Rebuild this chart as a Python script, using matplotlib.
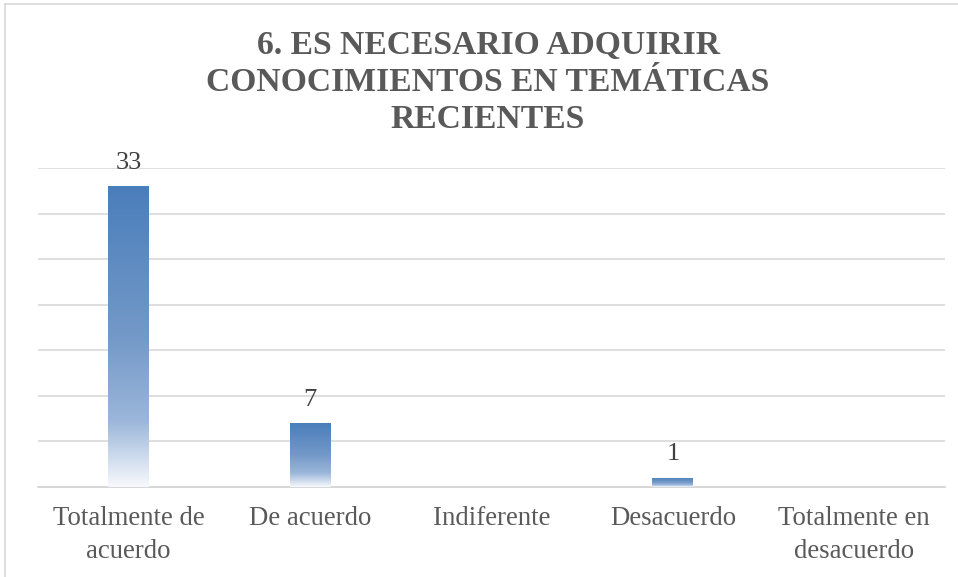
import numpy as np
import matplotlib.pyplot as plt
from matplotlib.colors import LinearSegmentedColormap
from matplotlib.lines import Line2D

categories = ["Totalmente de\nacuerdo", "De acuerdo", "Indiferente", "Desacuerdo", "Totalmente en\ndesacuerdo"]
values = [33, 7, 0, 1, 0]
title = "6. ES NECESARIO ADQUIRIR\nCONOCIMIENTOS EN TEMÁTICAS\nRECIENTES"

serif = 'Liberation Serif'
plt.rcParams['font.family'] = serif

# gradient: 0 = bottom of bar, 1 = top of bar
grad = LinearSegmentedColormap.from_list('bargrad', [
    (0.0, '#f7f9fc'),
    (0.22, '#9bb6da'),
    (0.5, '#7399c8'),
    (1.0, '#4a7ebb'),
])

fig = plt.figure(figsize=(9.58, 5.77), dpi=100)
ax = fig.add_axes([38/958, 1 - 487/577, (945 - 38)/958, (487 - 168)/577])

x = np.arange(len(categories))
bars = ax.bar(x, values, width=0.226, color='none', edgecolor='none', zorder=3)

g = np.linspace(0, 1, 256).reshape(-1, 1)
for rect, v in zip(bars, values):
    if v <= 0:
        continue
    x0 = rect.get_x()
    im = ax.imshow(g, cmap=grad, origin='lower', aspect='auto',
                   extent=(x0, x0 + rect.get_width(), 0, v), zorder=3)
    im.set_clip_path(rect)

labels = [str(v) if v > 0 else '' for v in values]
ax.bar_label(bars, labels=labels, padding=9, fontsize=19, color='#404040', family=serif)

ax.set_xlim(-0.5, len(categories) - 0.5)
ax.set_ylim(0, 35)
ax.set_yticks(np.arange(5, 36, 5))
ax.yaxis.grid(True, color='#d9d9d9', linewidth=1.2, zorder=0)
ax.set_axisbelow(True)
ax.tick_params(axis='y', left=False, labelleft=False)
ax.tick_params(axis='x', length=0, pad=14)
ax.set_xticks(x)
ax.set_xticklabels(categories, fontsize=19.3, color='#595959', linespacing=1.38, family=serif)
for s in ['top', 'right', 'left']:
    ax.spines[s].set_visible(False)
ax.spines['bottom'].set_color('#d0d0d0')
ax.spines['bottom'].set_linewidth(1.2)

fig.text(488/958, 1 - 82.5/577, title, ha='center', va='center', fontsize=24.2,
         fontweight='bold', color='#595959', linespacing=1.26, family=serif)

# chart frame (partly cropped in the original)
fig.add_artist(Line2D([5/958, 1], [1 - 4/577, 1 - 4/577], color='#d9d9d9', lw=1.2, transform=fig.transFigure))
fig.add_artist(Line2D([5/958, 5/958], [0, 1 - 4/577], color='#d9d9d9', lw=1.2, transform=fig.transFigure))

fig.savefig('out.png', dpi=100)
